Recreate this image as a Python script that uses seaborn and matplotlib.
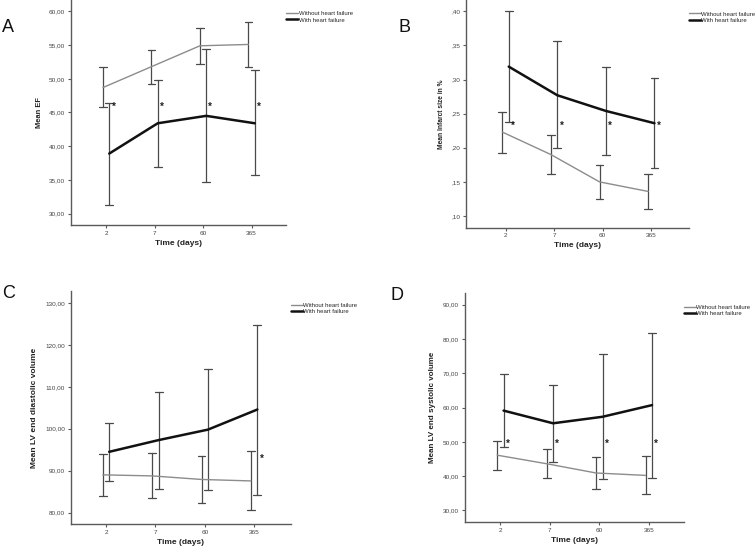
import matplotlib
matplotlib.use("Agg")
import matplotlib.pyplot as plt
from matplotlib.lines import Line2D
import seaborn as sns
import pandas as pd
import numpy as np

days = ["2", "7", "60", "365"]
groups = ["Without heart failure", "With heart failure"]

# panel A - ejection fraction
ef_without_mean = [48.7, 51.8, 54.9, 55.1]
ef_without_lo = [45.8, 49.3, 52.2, 51.8]
ef_without_hi = [51.7, 54.3, 57.6, 58.5]
ef_with_mean = [38.9, 43.4, 44.5, 43.4]
ef_with_lo = [31.3, 36.9, 34.7, 35.7]
ef_with_hi = [46.4, 49.8, 54.4, 51.3]

# panel B - infarct size
inf_without_mean = [0.223, 0.190, 0.150, 0.136]
inf_without_lo = [0.193, 0.161, 0.125, 0.111]
inf_without_hi = [0.253, 0.219, 0.175, 0.161]
inf_with_mean = [0.319, 0.277, 0.254, 0.236]
inf_with_lo = [0.238, 0.199, 0.189, 0.170]
inf_with_hi = [0.400, 0.356, 0.319, 0.303]

# panel C - LV end diastolic volume
edv_without_mean = [89.0, 88.75, 87.9, 87.55]
edv_without_lo = [84.0, 83.4, 82.3, 80.5]
edv_without_hi = [94.0, 94.1, 93.4, 94.6]
edv_with_mean = [94.5, 97.3, 99.8, 104.6]
edv_with_lo = [87.6, 85.7, 85.4, 84.3]
edv_with_hi = [101.3, 108.9, 114.2, 124.8]

# panel D - LV end systolic volume
esv_without_mean = [46.1, 43.6, 40.9, 40.2]
esv_without_lo = [41.9, 39.4, 36.1, 34.7]
esv_without_hi = [50.3, 47.8, 45.6, 45.8]
esv_with_mean = [59.1, 55.4, 57.3, 60.7]
esv_with_lo = [48.4, 44.1, 39.1, 39.5]
esv_with_hi = [69.8, 66.7, 75.5, 81.8]

# significance stars (day index, y value)
stars_a = [(0, 45.9), (1, 45.9), (2, 45.9), (3, 45.9)]
stars_b = [(0, 0.232), (1, 0.232), (2, 0.232), (3, 0.232)]
stars_c = [(3, 92.8)]
stars_d = [(0, 49.5), (1, 49.5), (2, 49.5), (3, 49.5)]

yticks_a = [30, 35, 40, 45, 50, 55, 60]
ylabels_a = ["30,00", "35,00", "40,00", "45,00", "50,00", "55,00", "60,00"]
yticks_b = [0.10, 0.15, 0.20, 0.25, 0.30, 0.35, 0.40]
ylabels_b = [",10", ",15", ",20", ",25", ",30", ",35", ",40"]
yticks_c = [80, 90, 100, 110, 120, 130]
ylabels_c = ["80,00", "90,00", "100,00", "110,00", "120,00", "130,00"]
yticks_d = [30, 40, 50, 60, 70, 80, 90]
ylabels_d = ["30,00", "40,00", "50,00", "60,00", "70,00", "80,00", "90,00"]


def make_frame(w_mean, w_lo, w_hi, h_mean, h_lo, h_hi):
    rows = []
    for g, (m, lo, hi) in zip(groups, [(w_mean, w_lo, w_hi), (h_mean, h_lo, h_hi)]):
        for d, a, b, c in zip(days, lo, m, hi):
            for v in (a, b, c):
                rows.append({"day": d, "group": g, "value": v})
    return pd.DataFrame(rows)


sns.set_style("ticks")
plt.rcParams["font.family"] = ["Liberation Sans", "DejaVu Sans"]

fig = plt.figure(figsize=(7.56, 5.51), dpi=100)

panels = [
    # letter, frame, rect, ylim, xlim, yticks, ylabels, ylabel, label size, stars, label x, letter pos
    ("A", make_frame(ef_without_mean, ef_without_lo, ef_without_hi, ef_with_mean, ef_with_lo, ef_with_hi),
     [0.0935, 0.5917, 0.2848, 0.4083], (28.3, 61.7), (-0.73, 3.71), yticks_a, ylabels_a, "Mean EF", 5.4,
     stars_a, -0.129, (2, 28)),
    ("B", make_frame(inf_without_mean, inf_without_lo, inf_without_hi, inf_with_mean, inf_with_lo, inf_with_hi),
     [0.616, 0.5868, 0.295, 0.4132], (0.0829, 0.4166), (-0.82, 3.77), yticks_b, ylabels_b,
     "Mean Infarct size in %", 4.8, stars_b, -0.094, (398, 28)),
    ("C", make_frame(edv_without_mean, edv_without_lo, edv_without_hi, edv_with_mean, edv_with_lo, edv_with_hi),
     [0.0935, 0.0485, 0.291, 0.4234], (77.2, 132.9), (-0.715, 3.74), yticks_c, ylabels_c,
     "Mean LV end diastolic volume", 6.0, stars_c, -0.149, (2, 293)),
    ("D", make_frame(esv_without_mean, esv_without_lo, esv_without_hi, esv_with_mean, esv_with_lo, esv_with_hi),
     [0.6147, 0.0526, 0.290, 0.415], (26.6, 93.3), (-0.72, 3.71), yticks_d, ylabels_d,
     "Mean LV end systolic volume", 5.8, stars_d, -0.131, (391, 296)),
]

palette = {"Without heart failure": "#8c8c8c", "With heart failure": "#111111"}
axis_col = "#5a5a5a"

for letter, df, rect, ylim, xlim, yt, yl, ylab, lsize, stars, labx, lpos in panels:
    ax = fig.add_axes(rect)
    sns.pointplot(data=df, x="day", y="value", hue="group", order=days, hue_order=groups,
                  estimator="median", errorbar=lambda v: (v.min(), v.max()),
                  palette=palette, dodge=0.13, capsize=0.16, err_kws={"linewidth": 0.9},
                  legend=False, ax=ax)
    for ln in ax.lines:
        ln.set_marker("")
        if len(ln.get_xdata()) == len(days):
            if matplotlib.colors.to_hex(ln.get_color()) == palette["With heart failure"]:
                ln.set_linewidth(1.8)
            else:
                ln.set_linewidth(1.0)
            ln.set_zorder(3)
        else:
            ln.set_color("#4a4a4a")
            ln.set_linewidth(0.9)
    for c in ax.collections:
        c.set_visible(False)

    ax.set_ylim(*ylim)
    ax.set_xlim(*xlim)
    ax.set_yticks(yt)
    ax.set_yticklabels(yl)
    ax.tick_params(axis="both", length=2.5, width=0.8, color=axis_col, labelsize=4.6,
                   labelcolor="#444444", pad=1.5)
    sns.despine(ax=ax)
    for s in ("left", "bottom"):
        ax.spines[s].set_color(axis_col)
        ax.spines[s].set_linewidth(1.0)

    ax.set_ylabel(ylab, fontsize=lsize, fontweight="bold", color="#222222")
    ax.set_xlabel("Time (days)", fontsize=6, fontweight="bold", color="#222222")
    ax.yaxis.set_label_coords(labx, 0.5)
    ax.xaxis.set_label_coords(0.5, -0.065)

    for i, yv in stars:
        ax.text(i + 0.15, yv, "*", fontsize=7, fontweight="bold", ha="center", va="center", color="#222222")

    handles = [Line2D([], [], color=palette[g], lw=lw) for g, lw in zip(groups, [1.0, 1.8])]
    ax.legend(handles, groups, loc="upper left", bbox_to_anchor=(1.0, 0.95), frameon=False,
              fontsize=4.3, handlelength=2.0, handletextpad=0.1, labelspacing=0.15,
              borderaxespad=0, borderpad=0)

    fig.text(lpos[0] / 756, 1 - lpos[1] / 551, letter, fontsize=13, ha="left", va="center", color="#111111")

fig.savefig("out.png", dpi=100)
